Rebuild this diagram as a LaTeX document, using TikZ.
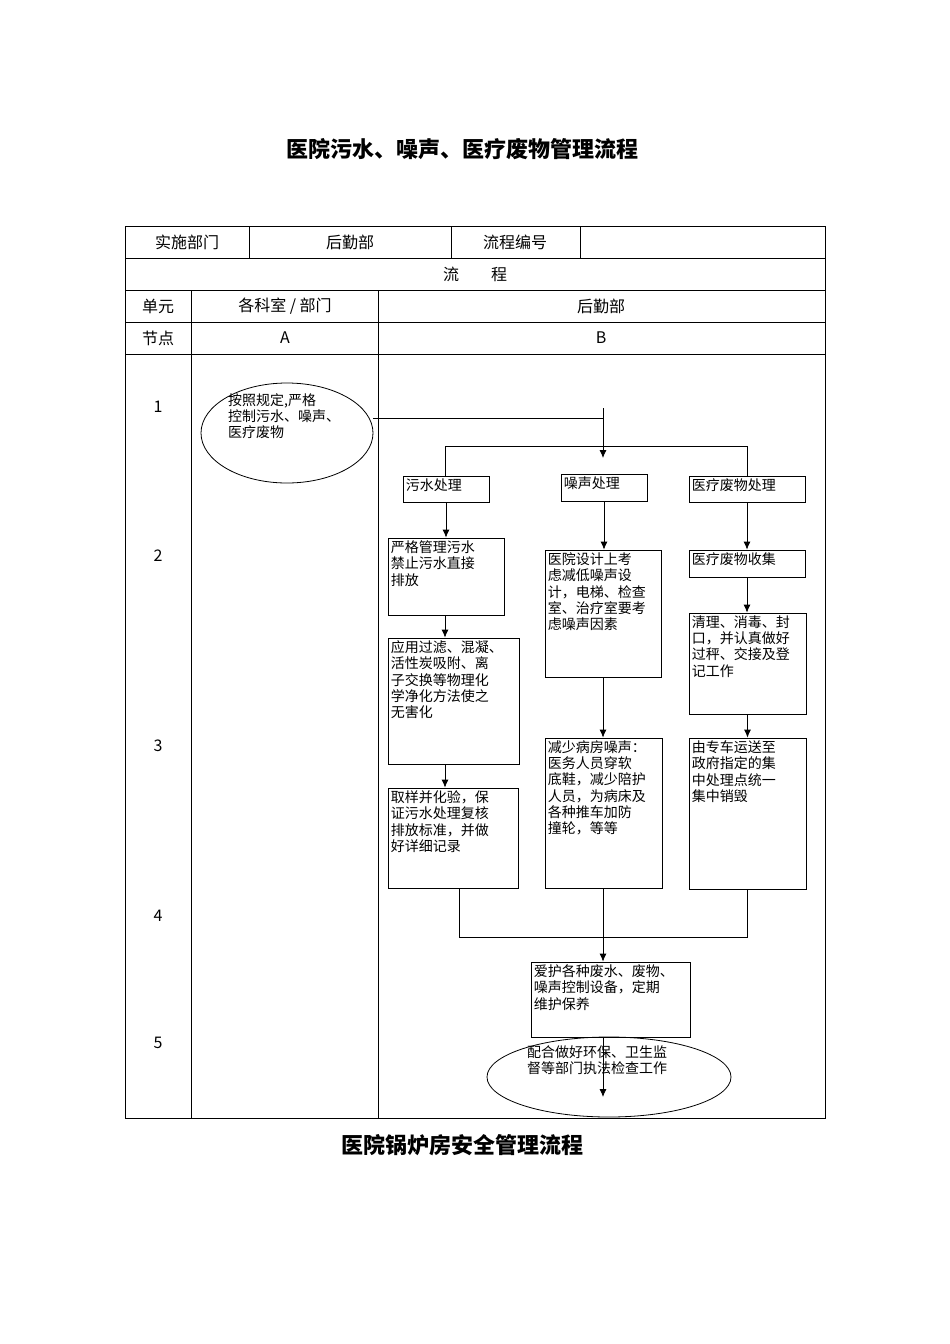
\documentclass[tikz,border=0pt]{standalone}
\usepackage{fontspec}
\setmainfont{Noto Sans CJK SC}
\usetikzlibrary{shapes.geometric,arrows.meta}
\begin{document}
\begin{tikzpicture}[x=1pt,y=-1pt,
  box/.style={draw,line width=0.8pt,inner sep=0pt},
  txt/.style={inner sep=3pt,align=left,font=\fontsize{14}{16.2}\selectfont},
  cell/.style={font=\fontsize{16}{18}\selectfont},
  ln/.style={line width=0.8pt},
  arr/.style={line width=0.8pt,-{Latex[length=8pt,width=7pt]}}]
\useasboundingbox (0,0) rectangle (950,1344);
\node[font=\bfseries\fontsize{22}{24}\selectfont] (t1) at (462,149) {医院污水、噪声、医疗废物管理流程};
\node[font=\bfseries\fontsize{22}{24}\selectfont] (t2) at (462,1145) {医院锅炉房安全管理流程};
% table
\draw[ln] (125,226) rectangle (825,1118);
\foreach \y in {258,290,322,354} \draw[ln] (125,\y) -- (825,\y);
\foreach \x in {249,451,580} \draw[ln] (\x,226) -- (\x,258);
\draw[ln] (191,290) -- (191,1118);
\draw[ln] (378,290) -- (378,1118);
\node[cell] (c1) at (187,242) {实施部门};
\node[cell] (c2) at (350,242) {后勤部};
\node[cell] (c3) at (515,242) {流程编号};
\node[cell] (c4) at (475,274) {流\hspace{2em}程};
\node[cell] (c5) at (158,306) {单元};
\node[cell] (c6) at (285,306) {各科室 / 部门};
\node[cell] (c7) at (601,306) {后勤部};
\node[cell] (c8) at (158,338) {节点};
\node[cell] (c9) at (285,338) {A};
\node[cell] (c10) at (601,338) {B};
\node[cell] (r1) at (158,407) {1};
\node[cell] (r2) at (158,556) {2};
\node[cell] (r3) at (158,746) {3};
\node[cell] (r4) at (158,916) {4};
\node[cell] (r5) at (158,1043) {5};
% start ellipse
\node[draw,ellipse,ln,minimum width=172,minimum height=100] (s) at (287,433) {};
\node[txt,anchor=north west] at (225,390) {按照规定,严格\\控制污水、噪声、\\医疗废物};
\coordinate (j1) at (603,418);
\coordinate (j0) at (603,408);
\coordinate (bl) at (445,446);
\coordinate (br) at (747,446);
% headers
\node[box,minimum width=86,minimum height=26] (h1) at (446,489) {};
\node[txt,anchor=north west] at (h1.north west) {污水处理};
\node[box,minimum width=86,minimum height=27] (h2) at (604,487.5) {};
\node[txt,anchor=north west] at (h2.north west) {噪声处理};
\node[box,minimum width=116,minimum height=26] (h3) at (747,489) {};
\node[txt,anchor=north west] at (h3.north west) {医疗废物处理};
% column 1
\node[box,minimum width=116,minimum height=77] (a1) at (446,576.5) {};
\node[txt,anchor=north west] at (a1.north west) {严格管理污水\\禁止污水直接\\排放};
\node[box,minimum width=131,minimum height=126] (a2) at (453.5,701) {};
\node[txt,anchor=north west] at (a2.north west) {应用过滤、混凝、\\活性炭吸附、离\\子交换等物理化\\学净化方法使之\\无害化};
\node[box,minimum width=130,minimum height=100] (a3) at (453,838) {};
\node[txt,anchor=north west] at (a3.north west) {取样并化验，保\\证污水处理复核\\排放标准，并做\\好详细记录};
% column 2
\node[box,minimum width=116,minimum height=127] (b1) at (603,613.5) {};
\node[txt,anchor=north west] at (b1.north west) {医院设计上考\\虑减低噪声设\\计，电梯、检查\\室、治疗室要考\\虑噪声因素};
\node[box,minimum width=117,minimum height=150] (b2) at (603.5,813) {};
\node[txt,anchor=north west] at (b2.north west) {减少病房噪声：\\医务人员穿软\\底鞋，减少陪护\\人员，为病床及\\各种推车加防\\撞轮，等等};
% column 3
\node[box,minimum width=116,minimum height=27] (m1) at (747,563.5) {};
\node[txt,anchor=north west] at (m1.north west) {医疗废物收集};
\node[box,minimum width=117,minimum height=101] (m2) at (747.5,663.5) {};
\node[txt,anchor=north west] at (m2.north west) {清理、消毒、封\\口，并认真做好\\过秤、交接及登\\记工作};
\node[box,minimum width=117,minimum height=151] (m3) at (747.5,813.5) {};
\node[txt,anchor=north west] at (m3.north west) {由专车运送至\\政府指定的集\\中处理点统一\\集中销毁};
% final
\node[box,minimum width=159,minimum height=75] (f) at (610.5,999.5) {};
\node[txt,anchor=north west] at (f.north west) {爱护各种废水、废物、\\噪声控制设备，定期\\维护保养};
\node[draw,ellipse,ln,minimum width=244,minimum height=80] (e) at (609,1077) {};
\node[txt,anchor=north west] at (524,1042) {配合做好环保、卫生监\\督等部门执法检查工作};
\coordinate (e0) at (603,1097);
% connectors
\draw[ln] (s.east |- j1) -- (j1);
\draw[arr] (j0) -- (603,458);
\draw[ln] (bl |- h1.north) -- (bl) -- (br) -- (br |- h3.north);
\draw[arr] (h1) -- (a1.north -| h1);
\draw[arr] (h2) -- (b1.north -| h2);
\draw[arr] (h3) -- (m1);
\draw[arr] (a1.south -| 445,0) -- (a2.north -| 445,0);
\draw[arr] (a2.south -| 445,0) -- (a3.north -| 445,0);
\draw[arr] (b1.south -| 603,0) -- (b2.north -| 603,0);
\draw[arr] (m1) -- (m2.north -| m1);
\draw[arr] (m2) -- (m3.north -| m2);
\coordinate (ml) at (459,937);
\coordinate (mr) at (747,937);
\draw[ln] (a3.south -| ml) -- (ml) -- (mr) -- (m3.south -| mr);
\draw[arr] (b2.south -| 603,0) -- (f.north -| 603,0);
\draw[arr] (f.south -| 603,0) -- (e0);
\end{tikzpicture}
\end{document}
